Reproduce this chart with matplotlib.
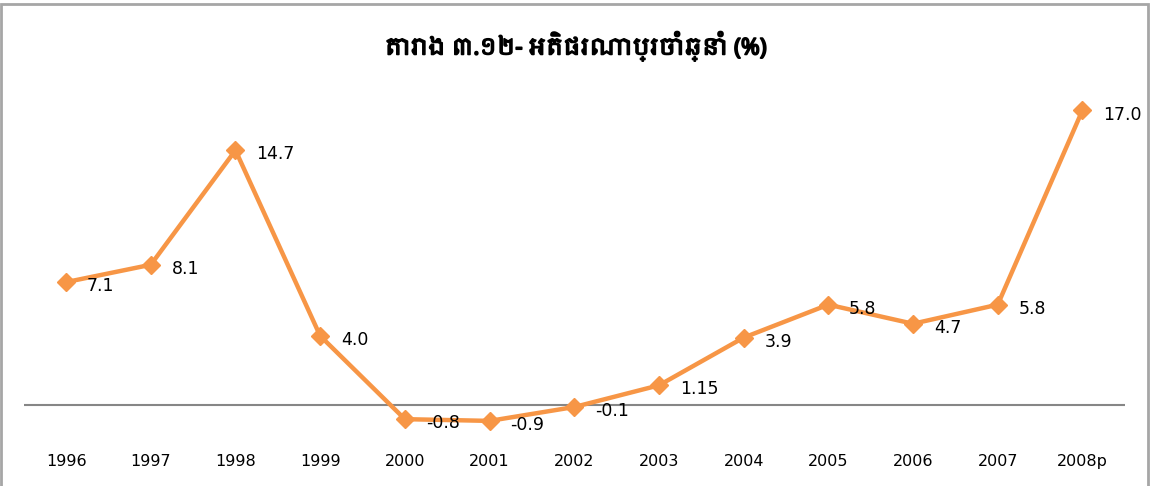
import matplotlib
matplotlib.use("Agg")
import matplotlib.pyplot as plt
import matplotlib.patheffects as pe
from matplotlib import font_manager
from matplotlib.patches import Rectangle

# data
years = ["1996", "1997", "1998", "1999", "2000", "2001", "2002",
         "2003", "2004", "2005", "2006", "2007", "2008p"]
inflation = [7.1, 8.1, 14.7, 4.0, -0.8, -0.9, -0.1, 1.15, 3.9, 5.8, 4.7, 5.8, 17.0]
labels = ["7.1", "8.1", "14.7", "4.0", "-0.8", "-0.9", "-0.1",
          "1.15", "3.9", "5.8", "4.7", "5.8", "17.0"]
title = "តារាង ៣.១២- អតិផរណាប្រចាំឆ្នាំ (%)"

# look for a font that can draw Khmer
khmer = []
for f in font_manager.fontManager.ttflist:
    if "khmer" in f.name.lower() and f.name not in khmer:
        khmer.append(f.name)
title_fonts = khmer + ["DejaVu Sans"]

orange = "#F79646"

fig = plt.figure(figsize=(11.58, 4.86), dpi=100)
ax = fig.add_axes([0.0205, 0.0947, 0.9508, 0.7139])

x = list(range(len(years)))
ax.plot(x, inflation, color=orange, linewidth=3.2, marker="D",
        markersize=9, markerfacecolor=orange, markeredgecolor=orange, zorder=3)

for i in range(len(years)):
    ax.annotate(labels[i], (x[i], inflation[i]), xytext=(15, -3),
                textcoords="offset points", ha="left", va="center",
                fontsize=12.5, color="black")

ax.axhline(0, color="#868686", linewidth=1.5, zorder=1)

ax.set_xlim(-0.5, len(years) - 0.5)
ax.set_ylim(-2, 18)
ax.set_xticks(x)
ax.set_xticklabels(years, fontsize=11.5)
ax.tick_params(axis="x", length=0, pad=10)
ax.set_yticks([])
for s in ax.spines.values():
    s.set_visible(False)

fig.text(0.497, 0.905, title, ha="center", va="center", fontsize=16.5,
         fontweight="bold", family=title_fonts,
         path_effects=[pe.withStroke(linewidth=1.2, foreground="black")])

# chart border
fig.patches.append(Rectangle((0.001, -0.05), 0.9905, 1.042, transform=fig.transFigure,
                             fill=False, edgecolor="#A6A6A6", linewidth=2))

fig.savefig("out.png", dpi=100)
